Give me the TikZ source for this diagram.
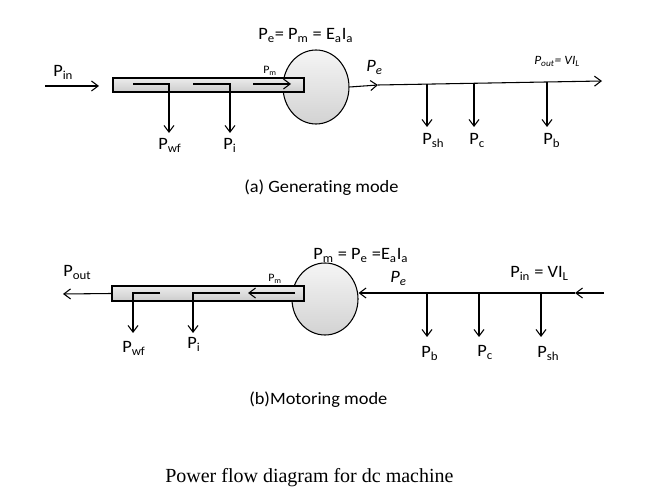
\documentclass[tikz,border=0pt]{standalone}
\usepackage{fontspec}
\setmainfont{Carlito}[FakeStretch=1.06,Ligatures=NoCommon]
\newfontfamily\capfont{Liberation Serif}
\usetikzlibrary{arrows.meta,shapes.geometric}
\begin{document}
\begin{tikzpicture}[x=0.75pt,y=-0.75pt,
  arr/.style={-{Straight Barb[length=5pt,width=7.5pt,line width=0.8pt]}, line width=0.8pt},
  lbl/.style={anchor=base west, inner sep=0pt, font=\fontsize{13}{15}\selectfont},
  smalllbl/.style={anchor=base west, inner sep=0pt, font=\fontsize{8.5}{10}\selectfont},
  itlbl/.style={anchor=base west, inner sep=0pt, font=\fontsize{9.5}{11}\selectfont\itshape},
  shaft/.style={draw, line width=0.8pt, rectangle, inner sep=0pt, top color=gray!15, bottom color=gray!40},
  rotor/.style={draw, line width=0.8pt, ellipse, inner sep=0pt, top color=gray!8, bottom color=gray!35}
]
\useasboundingbox (0,0) rectangle (661,495);
% ---------------- (a) generating mode ----------------
\node[rotor, minimum width=49.5pt, minimum height=55.5pt] (rotA) at (316,87) {};
\node[shaft, minimum width=143.25pt, minimum height=10.5pt] (shaftA) at (208.5,85) {};
\coordinate (pinS) at (45,86);
\coordinate (pinE) at (99,86);
\draw[arr] (pinS) -- (pinE);
\coordinate (a1s) at (133,84); \coordinate (a1e) at (169,133);
\coordinate (a2s) at (193,84); \coordinate (a2e) at (230,133);
\coordinate (a3s) at (253,84); \coordinate (a3e) at (291,84);
\draw[arr] (a1s) -| (a1e);
\draw[arr] (a2s) -| (a2e);
\draw[arr] (a3s) -- (a3e);
\coordinate (peA) at (378,85);
\coordinate (outA) at (602,81);
\draw[arr] (rotA.east) -- (peA);
\draw[arr] (peA) -- (outA);
\coordinate (shA1) at (427,83.8); \coordinate (shA2) at (427,127);
\coordinate (cA1) at (474,83); \coordinate (cA2) at (474,127);
\coordinate (bA1) at (547,82); \coordinate (bA2) at (547,127);
\draw[arr] (shA1) -- (shA2);
\draw[arr] (cA1) -- (cA2);
\draw[arr] (bA1) -- (bA2);
\node[lbl] (tPin) at (53,77) {P\textsubscript{in}};
\node[smalllbl] (tPmA) at (263,74) {P\textsubscript{m}};
\node[lbl] (tPwfA) at (158,150) {P\textsubscript{wf}};
\node[lbl] (tPiA) at (223,150) {P\textsubscript{i}};
\node[lbl] (tEqA) at (258,40) {P\textsubscript{e}= P\textsubscript{m} = E\textsubscript{a}I\textsubscript{a}};
\node[lbl, font=\fontsize{13}{15}\selectfont\itshape] (tPeA) at (366,72) {P\textsubscript{e}};
\node[itlbl] (tPoutA) at (534,65) {P\textsubscript{out}= VI\textsubscript{L}};
\node[lbl] (tPshA) at (422,145) {P\textsubscript{sh}};
\node[lbl] (tPcA) at (469,145) {P\textsubscript{c}};
\node[lbl] (tPbA) at (543,145) {P\textsubscript{b}};
\node[lbl] (capA) at (244,193) {(a) Generating mode};
% ---------------- (b) motoring mode ----------------
\node[rotor, minimum width=49.5pt, minimum height=54pt] (rotB) at (325,299) {};
\node[shaft, minimum width=144pt, minimum height=11.25pt] (shaftB) at (208,293.5) {};
\coordinate (poutE) at (63,294);
\draw[arr] (shaftB.west) -- (poutE);
\coordinate (b3s) at (295,293); \coordinate (b3e) at (248,293);
\coordinate (b2s) at (240,293); \coordinate (b2e) at (193,333);
\coordinate (b1s) at (160,293); \coordinate (b1e) at (133,333);
\draw[arr] (b3s) -- (b3e);
\draw[arr] (b2s) -| (b2e);
\draw[arr] (b1s) -| (b1e);
\coordinate (inB) at (604,293);
\coordinate (midB) at (575,293);
\draw[arr] (inB) -- (midB);
\draw[arr] (midB) -- (midB -| rotB.east);
\coordinate (pbB1) at (427,293); \coordinate (pbB2) at (427,337);
\coordinate (pcB1) at (479,293); \coordinate (pcB2) at (479,337);
\coordinate (psB1) at (541,293); \coordinate (psB2) at (541,337);
\draw[arr] (pbB1) -- (pbB2);
\draw[arr] (pcB1) -- (pcB2);
\draw[arr] (psB1) -- (psB2);
\node[lbl] (tPoutB) at (63,277) {P\textsubscript{out}};
\node[smalllbl] (tPmB) at (268,282) {P\textsubscript{m}};
\node[lbl] (tPwfB) at (122,353) {P\textsubscript{wf}};
\node[lbl] (tPiB) at (187,349) {P\textsubscript{i}};
\node[lbl] (tEqB) at (313,260) {P\textsubscript{m} = P\textsubscript{e} =E\textsubscript{a}I\textsubscript{a}};
\node[lbl, font=\fontsize{13}{15}\selectfont\itshape] (tPeB) at (390,283) {P\textsubscript{e}};
\node[lbl] (tPinB) at (510,278) {P\textsubscript{in} = VI\textsubscript{L}};
\node[lbl] (tPbB) at (421,358) {P\textsubscript{b}};
\node[lbl] (tPcB) at (477,357) {P\textsubscript{c}};
\node[lbl] (tPshB) at (537,358) {P\textsubscript{sh}};
\node[lbl] (capB) at (249,405) {(b)Motoring mode};
\node[anchor=base west, inner sep=0pt, font=\capfont\fontsize{15}{17}\selectfont] (title) at (165,482) {Power flow diagram for dc machine};
\end{tikzpicture}
\end{document}
